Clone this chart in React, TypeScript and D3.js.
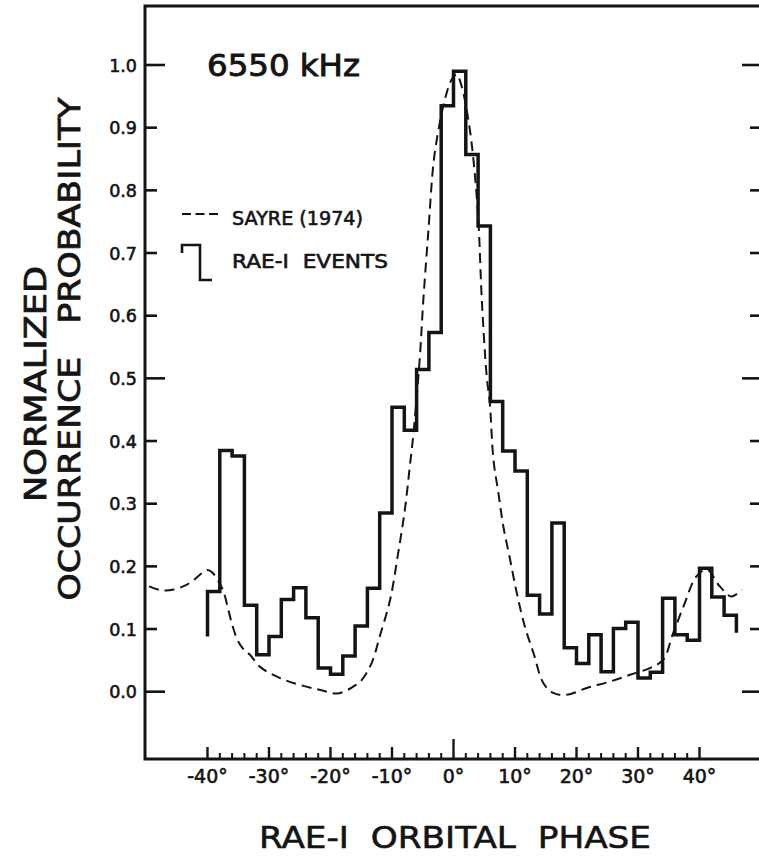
import React from "react";
import * as d3 from "d3";

// ---------- data ----------
const BIN_START = [-40, -38, -36, -34, -32, -30, -28, -26, -24, -22, -20, -18, -16, -14, -12, -10, -8, -6, -4, -2, 0, 2, 4, 6, 8, 10, 12, 14, 16, 18, 20, 22, 24, 26, 28, 30, 32, 34, 36, 38, 40, 42, 44];
const BIN_WIDTH = 2;
const RAE_EVENTS = [0.16, 0.385, 0.376, 0.138, 0.059, 0.088, 0.147, 0.166, 0.118, 0.038, 0.028, 0.057, 0.105, 0.165, 0.285, 0.454, 0.417, 0.514, 0.573, 0.935, 0.99, 0.857, 0.743, 0.463, 0.384, 0.352, 0.154, 0.124, 0.269, 0.07, 0.045, 0.091, 0.032, 0.101, 0.111, 0.022, 0.031, 0.149, 0.091, 0.082, 0.197, 0.151, 0.122];
const RAE_LEAD_IN = 0.088;
const RAE_LEAD_OUT = 0.094;

const SAYRE_PHASE = [-49.5, -47.5, -45.5, -43.5, -42, -40.8, -40, -39.2, -38.2, -37.4, -36.6, -35.9, -35, -34, -33.1, -31.5, -28.3, -25, -21.8, -19, -17.4, -16, -14.9, -13.3, -12, -10.3, -9, -7.9, -7.1, -6.5, -5.5, -4.9, -4.1, -3.3, -2.7, -1.4, -0.3, 0.5, 1.3, 2.2, 3, 4, 4.6, 5.4, 5.9, 6.5, 7.3, 8.1, 9.2, 10.3, 11.6, 13, 14.6, 16.2, 18.4, 21.7, 25.4, 28.7, 32, 34.1, 35.7, 37.4, 39.5, 41.2, 43.3, 45.2, 46.9];
const SAYRE_VALUE = [0.168, 0.162, 0.163, 0.17, 0.18, 0.19, 0.194, 0.19, 0.176, 0.16, 0.13, 0.104, 0.08, 0.066, 0.059, 0.04, 0.022, 0.011, 0.003, -0.003, 0.002, 0.01, 0.019, 0.046, 0.088, 0.147, 0.221, 0.291, 0.36, 0.413, 0.53, 0.626, 0.733, 0.839, 0.882, 0.945, 0.977, 0.985, 0.967, 0.925, 0.871, 0.759, 0.626, 0.503, 0.461, 0.37, 0.317, 0.264, 0.211, 0.157, 0.104, 0.062, 0.014, -0.002, -0.005, 0.006, 0.016, 0.027, 0.038, 0.051, 0.093, 0.136, 0.184, 0.195, 0.168, 0.152, 0.163];

const Y_TICKS = [0, 0.1, 0.2, 0.3, 0.4, 0.5, 0.6, 0.7, 0.8, 0.9, 1.0];
const Y_LABELS = ["0.0", "0.1", "0.2", "0.3", "0.4", "0.5", "0.6", "0.7", "0.8", "0.9", "1.0"];
const Y_MAJOR = [0, 0.5, 1.0];
const X_MAJOR = [-40, -30, -20, -10, 0, 10, 20, 30, 40];
const X_LABELS = ["-40°", "-30°", "-20°", "-10°", "0°", "10°", "20°", "30°", "40°"];
const X_MINOR = [-38, -36, -34, -32, -28, -26, -24, -22, -18, -16, -14, -12, -8, -6, -4, -2, 2, 4, 6, 8, 12, 14, 16, 18, 22, 24, 26, 28, 32, 34, 36, 38];

const FREQ_LABEL = "6550 kHz";
const LEGEND_LABELS = ["SAYRE (1974)", "RAE-I  EVENTS"];
const X_TITLE = "RAE-I  ORBITAL  PHASE";
const Y_TITLE_1 = "NORMALIZED";
const Y_TITLE_2 = "OCCURRENCE   PROBABILITY";

// ---------- component ----------
export default function App() {
  const W = 759;
  const H = 857;
  const font = "'DejaVu Sans', 'Liberation Sans', sans-serif";
  const ink = "#141414";

  const x = d3.scaleLinear().domain([-50, 50]).range([146, 761]);
  const y = d3.scaleLinear().domain([0, 1]).range([691.7, 65]);

  const left = 145;
  const right = 764;
  const top = 6;
  const bottom = 759;

  // histogram outline
  const histPts: [number, number][] = [[x(BIN_START[0]), y(RAE_LEAD_IN)]];
  BIN_START.forEach((s, i) => {
    histPts.push([x(s), y(RAE_EVENTS[i])]);
    histPts.push([x(s + BIN_WIDTH), y(RAE_EVENTS[i])]);
  });
  const lastEnd = BIN_START[BIN_START.length - 1] + BIN_WIDTH;
  histPts.push([x(lastEnd), y(RAE_LEAD_OUT)]);
  const histPath = d3.line()(histPts) || "";

  const sayrePath =
    d3
      .line<number>()
      .x((d, i) => x(SAYRE_PHASE[i]))
      .y((d) => y(d))
      .curve(d3.curveCatmullRom.alpha(0.5))(SAYRE_VALUE) || "";

  const legendStep = d3.line()([
    [182, 253],
    [182, 245],
    [200, 245],
    [200, 280],
    [212, 280],
  ]) || "";

  const pre = { whiteSpace: "pre" } as React.CSSProperties;

  return (
    <svg
      width={W}
      height={H}
      viewBox={`0 0 ${W} ${H}`}
      style={{ position: "absolute", left: 0, top: 0, background: "#fff" }}
      fontFamily={font}
    >
      <rect x={0} y={0} width={W} height={H} fill="#fff" />

      {/* frame */}
      <path
        d={`M${right},${top}H${left}V${bottom}H${right}`}
        fill="none"
        stroke={ink}
        strokeWidth={3}
      />

      {/* y ticks left & right */}
      {Y_TICKS.map((t, i) => {
        const major = Y_MAJOR.includes(t);
        return (
          <g key={"yt" + i}>
            <line x1={left} x2={left + (major ? 20 : 12)} y1={y(t)} y2={y(t)} stroke={ink} strokeWidth={2.6} />
            <line x1={right} x2={major ? 742 : 750} y1={y(t)} y2={y(t)} stroke={ink} strokeWidth={2.6} />
            <text x={137} y={y(t) + 6.5} textAnchor="end" fontSize={17.5} fill={ink} stroke={ink} strokeWidth={0.6}>
              {Y_LABELS[i]}
            </text>
          </g>
        );
      })}

      {/* x ticks */}
      {X_MAJOR.map((t, i) => (
        <g key={"xt" + i}>
          <line x1={x(t)} x2={x(t)} y1={bottom} y2={bottom - (t === 0 ? 20 : 12)} stroke={ink} strokeWidth={2.4} />
          <text x={x(t)} y={783} textAnchor="middle" fontSize={19} fill={ink} stroke={ink} strokeWidth={0.6}>
            {X_LABELS[i]}
          </text>
        </g>
      ))}
      {X_MINOR.map((t, i) => (
        <line key={"xm" + i} x1={x(t)} x2={x(t)} y1={bottom} y2={bottom - 6} stroke={ink} strokeWidth={2} />
      ))}

      {/* Sayre model curve */}
      <path d={sayrePath} fill="none" stroke={ink} strokeWidth={2} strokeDasharray="10 6" />

      {/* RAE-1 histogram */}
      <path d={histPath} fill="none" stroke={ink} strokeWidth={3.5} strokeLinejoin="miter" />

      {/* frequency label */}
      <text x={207} y={76} fontSize={30} fill={ink} stroke={ink} strokeWidth={0.9} textLength={153} lengthAdjust="spacingAndGlyphs">
        {FREQ_LABEL}
      </text>

      {/* legend */}
      <line x1={182} x2={218} y1={214} y2={214} stroke={ink} strokeWidth={2} strokeDasharray="9 4.5" />
      <text x={232} y={225} fontSize={19} fill={ink} stroke={ink} strokeWidth={0.6} textLength={131} lengthAdjust="spacingAndGlyphs" style={pre}>
        {LEGEND_LABELS[0]}
      </text>
      <path d={legendStep} fill="none" stroke={ink} strokeWidth={2.6} />
      <text x={232} y={268} fontSize={19} fill={ink} stroke={ink} strokeWidth={0.6} textLength={156} lengthAdjust="spacingAndGlyphs" style={pre}>
        {LEGEND_LABELS[1]}
      </text>

      {/* axis titles */}
      <text x={455} y={848} textAnchor="middle" fontSize={31} fill={ink} stroke={ink} strokeWidth={0.6} textLength={392} lengthAdjust="spacingAndGlyphs" style={pre}>
        {X_TITLE}
      </text>
      <text
        transform="translate(46,384) rotate(-90)"
        textAnchor="middle"
        fontSize={30}
        fill={ink}
        stroke={ink}
        strokeWidth={0.8}
        textLength={236}
        lengthAdjust="spacingAndGlyphs"
        style={pre}
      >
        {Y_TITLE_1}
      </text>
      <text
        transform="translate(80,349) rotate(-90)"
        textAnchor="middle"
        fontSize={30}
        fill={ink}
        stroke={ink}
        strokeWidth={0.8}
        textLength={503}
        lengthAdjust="spacingAndGlyphs"
        style={pre}
      >
        {Y_TITLE_2}
      </text>
    </svg>
  );
}
